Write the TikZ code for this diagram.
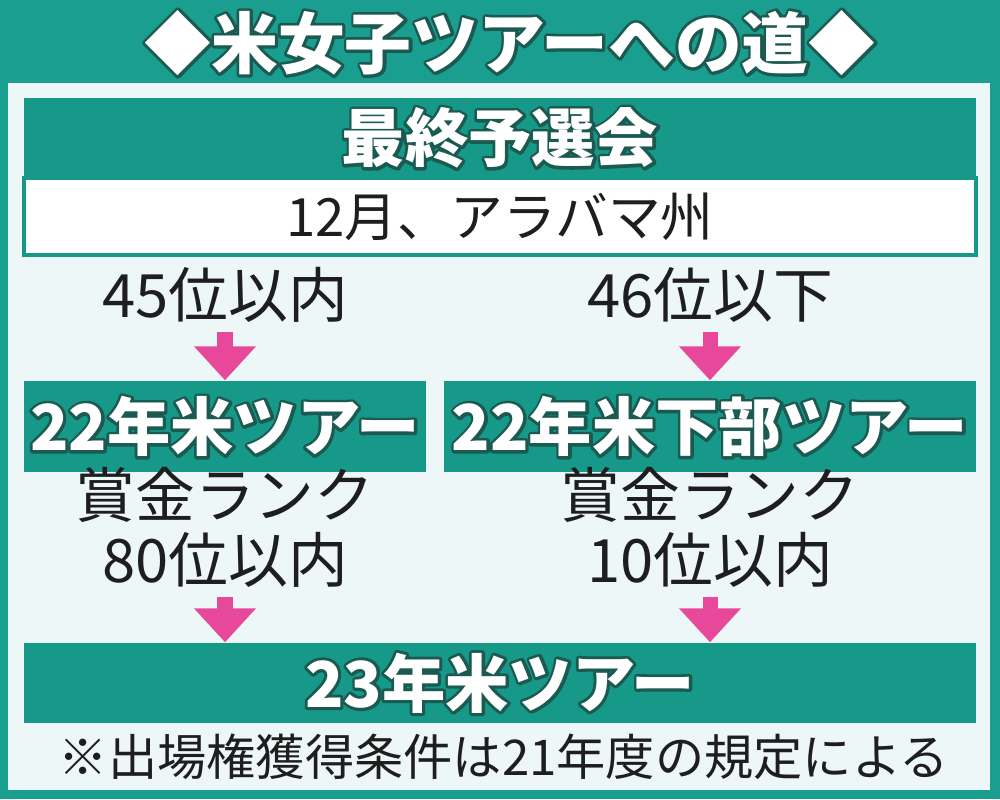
\documentclass[tikz,border=0pt]{standalone}
\usepackage{fontspec}
\setmainfont{Noto Sans CJK JP}
\usetikzlibrary{arrows.meta}
\definecolor{bgteal}{HTML}{1A9E8F}
\definecolor{barteal}{HTML}{17998A}
\definecolor{panel}{HTML}{EEF7F7}
\definecolor{arrowpink}{HTML}{E8489A}
\definecolor{ink}{HTML}{1E1E1E}
\tikzset{
  bar/.style={fill=barteal, inner sep=0pt, text=white,
    font=\bfseries\fontsize{18}{22}\selectfont},
  titletext/.style={font=\bfseries\fontsize{19}{23}\selectfont, text=white, inner sep=0pt},
  plain/.style={font=\fontsize{17}{21}\selectfont, text=ink, inner sep=0pt},
  pinkarrow/.style={draw=arrowpink, line width=0.15cm, shorten <=0.09cm,
    -{Triangle[width=0.6cm,length=0.34cm]}},
}
% white letters with a dark teal rim: stroked copy under a filled one
\newcommand\rimtext[1]{%
  \rlap{\special{pdf:literal direct 1 Tr 1.7 w 1 j 0.106 0.353 0.314 RG}#1\special{pdf:literal direct 0 Tr}}%
  #1}
\begin{document}
\begin{tikzpicture}[x=0.01cm,y=-0.01cm]
\useasboundingbox (0,0) rectangle (1000,799);
\fill[bgteal] (0,0) rectangle (1000,799);
\fill[panel] (8,83) rectangle (990,790);
\node[titletext] (title) at (510,43) {\rimtext{◆米女子ツアーへの道◆}};

% final qualifying
\node[bar, minimum width=9.52cm, minimum height=0.8cm] (final) at (500,138) {\rimtext{最終予選会}};
\node[draw=barteal, line width=0.4mm, fill=white, minimum width=9.52cm, minimum height=0.77cm,
  font=\fontsize{15}{18}\selectfont, text=ink] (place) at (500,216.5) {12月、アラバマ州};

\node[plain] (t45) at (225,295) {45位以内};
\node[plain] (t46) at (710,295) {46位以下};

% 22 tours
\node[bar, minimum width=4.02cm, minimum height=0.91cm] (lpga) at (225,426.5) {\rimtext{22年米ツアー}};
\node[bar, minimum width=5.32cm, minimum height=0.91cm] (epson) at (710,426.5) {\rimtext{22年米下部ツアー}};
\draw[pinkarrow] (t45.south) -- (lpga.north);
\draw[pinkarrow] (t46.south) -- (epson.north);

\node[plain] (rankl) at (225,495) {賞金ランク};
\node[plain] (r80) at (225,560) {80位以内};
\node[plain] (rankr) at (710,495) {賞金ランク};
\node[plain] (r10) at (710,560) {10位以内};

% 23 tour
\node[bar, minimum width=9.52cm, minimum height=0.8cm] (tour23) at (500,683) {\rimtext{23年米ツアー}};
\draw[pinkarrow] (r80.south) -- (r80.south |- tour23.north);
\draw[pinkarrow] (r10.south) -- (r10.south |- tour23.north);

\node[plain, font=\fontsize{14}{17}\selectfont] (note) at (504,757) {※出場権獲得条件は21年度の規定による};
\end{tikzpicture}
\end{document}
